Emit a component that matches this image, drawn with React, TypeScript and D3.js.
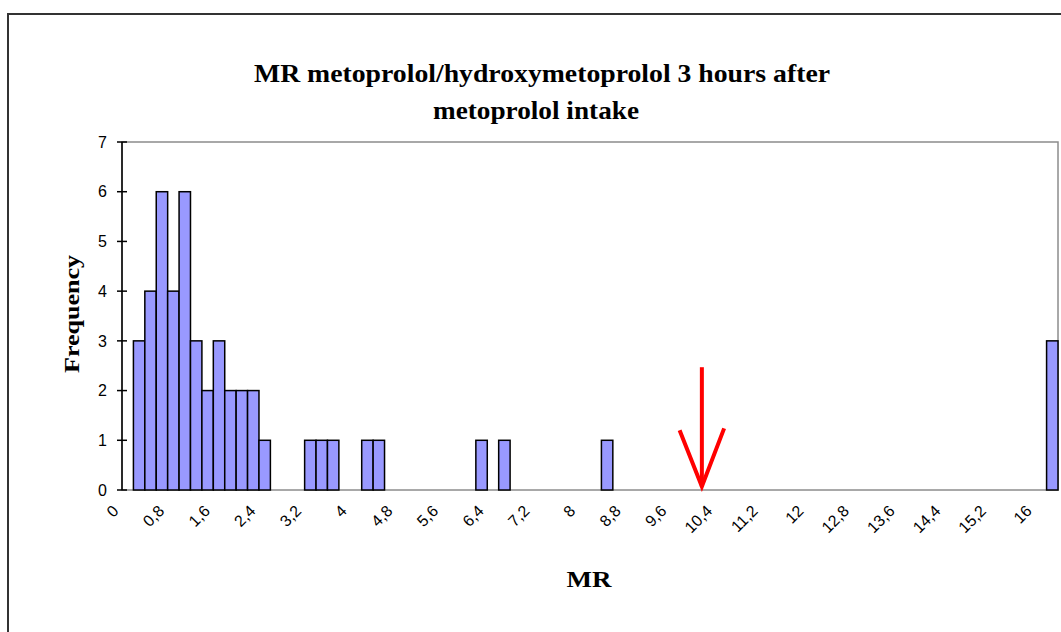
import React from 'react';
import * as d3 from 'd3';

// histogram bins (upper bound of each class), last one is Excel's "More"
const bins: (number | string)[] = [
  0, 0.2, 0.4, 0.6, 0.8, 1, 1.2, 1.4, 1.6, 1.8,
  2, 2.2, 2.4, 2.6, 2.8, 3, 3.2, 3.4, 3.6, 3.8,
  4, 4.2, 4.4, 4.6, 4.8, 5, 5.2, 5.4, 5.6, 5.8,
  6, 6.2, 6.4, 6.6, 6.8, 7, 7.2, 7.4, 7.6, 7.8,
  8, 8.2, 8.4, 8.6, 8.8, 9, 9.2, 9.4, 9.6, 9.8,
  10, 10.2, 10.4, 10.6, 10.8, 11, 11.2, 11.4, 11.6, 11.8,
  12, 12.2, 12.4, 12.6, 12.8, 13, 13.2, 13.4, 13.6, 13.8,
  14, 14.2, 14.4, 14.6, 14.8, 15, 15.2, 15.4, 15.6, 15.8,
  16, 'More'
];

const frequency = [
  0, 3, 4, 6, 4, 6, 3, 2, 3, 2,
  2, 2, 1, 0, 0, 0, 1, 1, 1, 0,
  0, 1, 1, 0, 0, 0, 0, 0, 0, 0,
  0, 1, 0, 1, 0, 0, 0, 0, 0, 0,
  0, 0, 1, 0, 0, 0, 0, 0, 0, 0,
  0, 0, 0, 0, 0, 0, 0, 0, 0, 0,
  0, 0, 0, 0, 0, 0, 0, 0, 0, 0,
  0, 0, 0, 0, 0, 0, 0, 0, 0, 0,
  0, 3
];

// labelled categories on the x axis
const xTickLabels = ['0', '0,8', '1,6', '2,4', '3,2', '4', '4,8', '5,6', '6,4', '7,2', '8',
  '8,8', '9,6', '10,4', '11,2', '12', '12,8', '13,6', '14,4', '15,2', '16'];
const yTicks = [0, 1, 2, 3, 4, 5, 6, 7];

// hand-drawn red arrow (MR units / frequency units)
const arrowMR = 10.16;
const arrowTop = 2.47;
const arrowTip = 0.07;
const arrowHeadDx = 0.39;
const arrowHeadY = 1.2;

const W = 1061;
const H = 632;
const plot = { left: 122, right: 1058, top: 142, bottom: 490 };

export default function App() {
  const idx = bins.map((_, i) => i);
  const x = d3.scaleBand<number>().domain(idx).range([plot.left, plot.right]).padding(0);
  const y = d3.scaleLinear().domain([0, 7]).range([plot.bottom, plot.top]);
  // continuous MR position over the same band range (0 -> first band start)
  const xMR = d3.scaleLinear().domain([0, 0.2 * bins.length]).range([plot.left, plot.right]);
  const bw = x.bandwidth();

  const labelIdx = xTickLabels.map(l => bins.findIndex(b => typeof b === 'number' && String(b).replace('.', ',') === l));

  const head = d3.path();
  head.moveTo(xMR(arrowMR - arrowHeadDx), y(arrowHeadY));
  head.lineTo(xMR(arrowMR), y(arrowTip));
  head.lineTo(xMR(arrowMR + arrowHeadDx), y(arrowHeadY + 0.04));

  const tickFont = '"Liberation Sans", Arial, sans-serif';
  const serif = '"Liberation Serif", "Times New Roman", serif';

  return (
    <svg width={W} height={H} style={{ position: 'absolute', left: 0, top: 0, background: '#fff' }}>
      <rect x={8} y={14} width={W + 20} height={H + 20} fill="#fff" stroke="#333" strokeWidth={2} />

      <text x={542} y={82} textAnchor="middle" fontFamily={serif} fontWeight="bold" fontSize={25}
        textLength={576} lengthAdjust="spacingAndGlyphs">
        MR metoprolol/hydroxymetoprolol 3 hours after
      </text>
      <text x={536} y={119} textAnchor="middle" fontFamily={serif} fontWeight="bold" fontSize={25}
        textLength={206} lengthAdjust="spacingAndGlyphs">
        metoprolol intake
      </text>

      <rect x={plot.left} y={plot.top} width={plot.right - plot.left} height={plot.bottom - plot.top}
        fill="#fff" stroke="#8c8c8c" strokeWidth={1.5} />

      {frequency.map((f, i) => f > 0 ? (
        <rect key={i} x={x(i)!} y={y(f)} width={bw} height={y(0) - y(f)}
          fill="#9999ff" stroke="#000" strokeWidth={1.5} />
      ) : null)}

      <line x1={plot.left} x2={plot.left} y1={plot.top} y2={plot.bottom} stroke="#000" strokeWidth={1.5} />
      {yTicks.map(t => (
        <g key={t}>
          <line x1={plot.left - 5} x2={plot.left + 5} y1={y(t)} y2={y(t)} stroke="#000" strokeWidth={1.5} />
          <text x={107} y={y(t)} dy="0.36em" textAnchor="end" fontFamily={tickFont} fontSize={16}>{t}</text>
        </g>
      ))}

      {xTickLabels.map((l, k) => {
        const cx = x(labelIdx[k])! + bw / 2;
        return (
          <text key={l} transform={`translate(${cx - 16},${504}) rotate(-45)`} textAnchor="end" dy="0.7em"
            fontFamily={tickFont} fontSize={16}>{l}</text>
        );
      })}

      <text transform={`translate(${79},${314}) rotate(-90)`} textAnchor="middle" fontFamily={serif}
        fontWeight="bold" fontSize={22} textLength={118} lengthAdjust="spacingAndGlyphs">Frequency</text>
      <text x={589} y={587} textAnchor="middle" fontFamily={serif} fontWeight="bold" fontSize={24}
        textLength={45} lengthAdjust="spacingAndGlyphs">MR</text>

      <line x1={xMR(arrowMR)} x2={xMR(arrowMR)} y1={y(arrowTop)} y2={y(arrowTip)} stroke="#ff0000" strokeWidth={4} />
      <path d={head.toString()} fill="none" stroke="#ff0000" strokeWidth={4} strokeLinejoin="miter" />
    </svg>
  );
}
